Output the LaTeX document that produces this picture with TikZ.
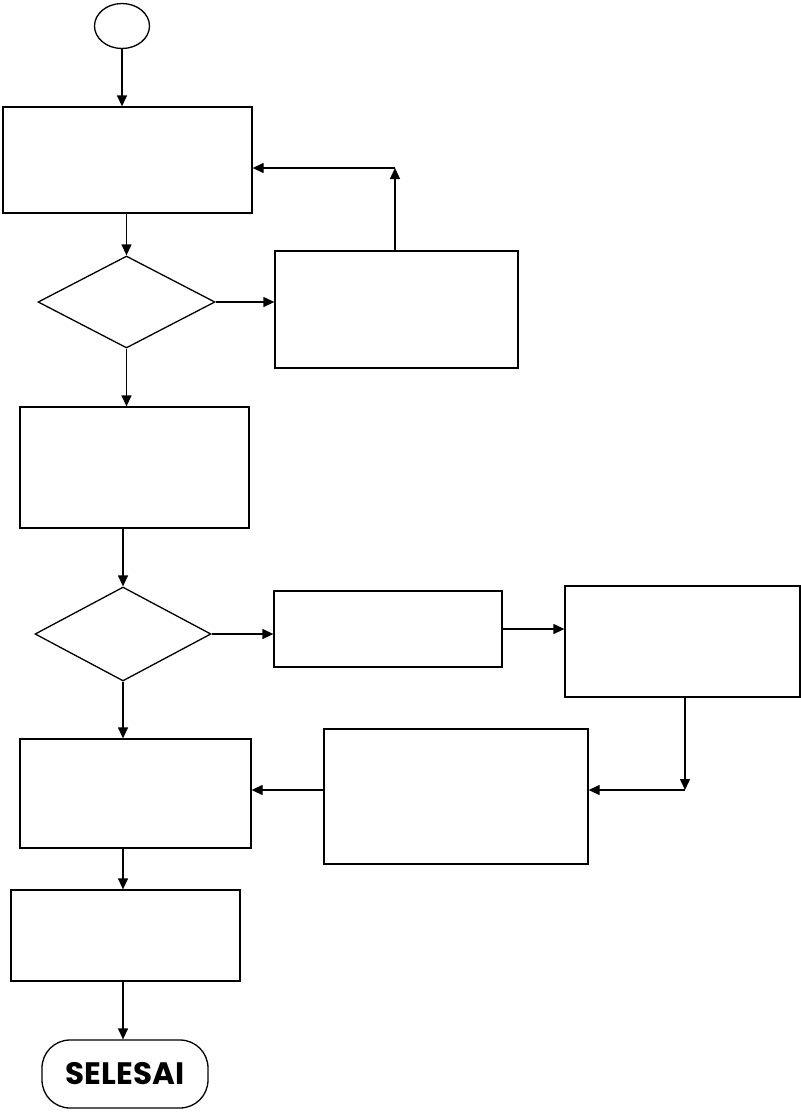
\documentclass[tikz,border=0pt]{standalone}
\usepackage{fontspec}
\newfontfamily\endfont{Poppins}
\usetikzlibrary{arrows.meta,shapes.geometric}

\tikzset{
    flow/.style={line width=1.3pt, -{Triangle[length=11pt,width=10pt]}},
    proc/.style={draw, line width=1.3pt, inner sep=0pt},
    cond/.style={draw, diamond, line width=1.3pt, inner sep=0pt},
}

\begin{document}
\begin{tikzpicture}[x=1pt,y=-1pt]

            \useasboundingbox (0,0) rectangle (801,1112);

            \node[draw, ellipse, line width=1.3pt, minimum width=55pt, minimum height=45pt] (start) at (122,26) {};

            \node[proc, minimum width=249pt, minimum height=106pt] (box1) at (127.5,160) {};
            \node[cond, minimum width=177pt, minimum height=92pt] (dia1) at (126.5,302) {};
            \node[proc, minimum width=243pt, minimum height=117pt] (box2) at (396.5,309.5) {};
            \node[proc, minimum width=229pt, minimum height=121pt] (box3) at (134.5,467.5) {};
            \node[cond, minimum width=176pt, minimum height=94pt] (dia2) at (123,634) {};
            \node[proc, minimum width=228pt, minimum height=76pt] (box4) at (388,629) {};
            \node[proc, minimum width=235pt, minimum height=111pt] (box5) at (682.5,641.5) {};
            \node[proc, minimum width=264pt, minimum height=135pt] (box6) at (456,796.5) {};
            \node[proc, minimum width=231pt, minimum height=109pt] (box7) at (135.5,793.5) {};
            \node[proc, minimum width=229pt, minimum height=91pt] (box8) at (125.5,935.5) {};
            \node[draw, line width=1.3pt, rounded corners=28pt, minimum width=166pt, minimum height=68pt,
                  font=\endfont\bfseries\fontsize{31}{31}\selectfont] (stop) at (125,1074) {SELESAI};

            \coordinate (ret) at (395,168);
            \coordinate (back) at (685,790);

            \draw[flow] (start.south) -- (start.south |- box1.north);
            \draw[flow] (box1.south -| dia1.north) -- (dia1.north);
            \draw[flow] (dia1.east) -- (box2.west |- dia1.east);
            \draw[flow] (box2.north -| ret) -- (ret);
            \draw[flow] (ret) -- (ret -| box1.east);
            \draw[flow] (dia1.south) -- (dia1.south |- box3.north);
            \draw[flow] (box3.south -| dia2.north) -- (dia2.north);
            \draw[flow] (dia2.east) -- (box4.west |- dia2.east);
            \draw[flow] (box4.east) -- (box5.west |- box4.east);
            \draw[flow] (box5.south -| back) -- (back);
            \draw[flow] (back) -- (back -| box6.east);
            \draw[flow] (box6.west |- back) -- (box7.east |- back);
            \draw[flow] (dia2.south) -- (dia2.south |- box7.north);
            \draw[flow] (box7.south -| dia2.south) -- (box8.north -| dia2.south);
            \draw[flow] (box8.south -| dia2.south) -- (stop.north -| dia2.south);

\end{tikzpicture}
\end{document}
